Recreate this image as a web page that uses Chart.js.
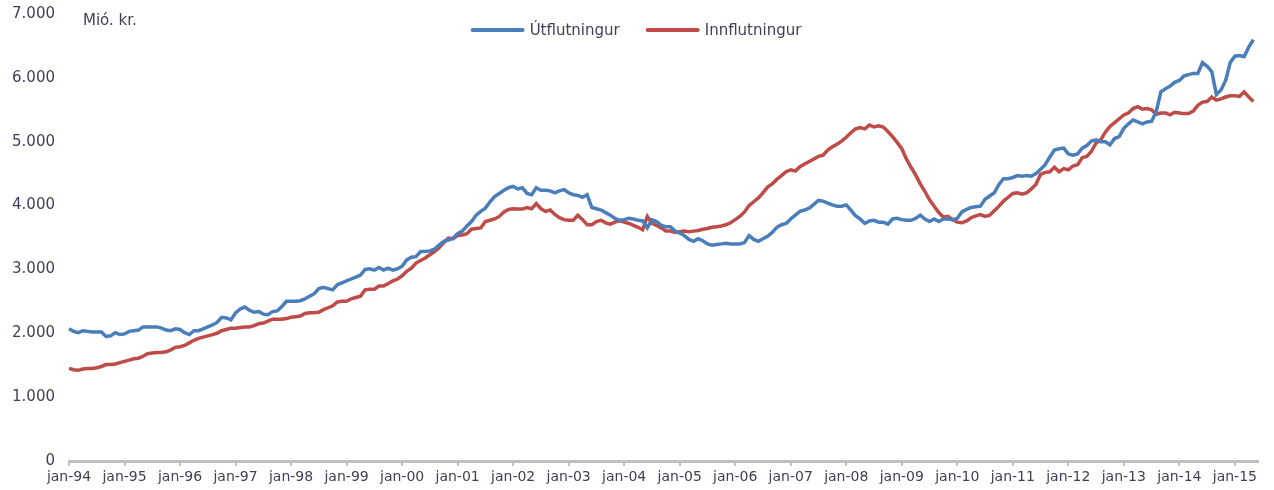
<!DOCTYPE html>
<html lang="is">
<head>
<meta charset="UTF-8" />
<title>Útflutningur og innflutningur</title>
<script src="https://cdn.jsdelivr.net/npm/chart.js@4.4.0/dist/chart.umd.min.js"></script>
<style>
  html, body { margin: 0; padding: 0; background: #fff; }
  #wrap { width: 1274px; height: 490px; }
</style>
</head>
<body>
<div id="wrap"><canvas id="tradeChart" width="1274" height="490"></canvas></div>
<script>
  // Monthly values in millions of ISK, jan-94 to maí-15
  const years = ["94","95","96","97","98","99","00","01","02","03","04","05","06","07","08","09","10","11","12","13","14","15"];
  const monthNames = ["jan","feb","mar","apr","maí","jún","júl","ágú","sep","okt","nóv","des"];

  const exports_ = [
    2070, 2030, 2010, 2040, 2030, 2020, 2020, 2020, 1950, 1960, 2010, 1980,
    1990, 2030, 2040, 2050, 2100, 2100, 2100, 2100, 2080, 2050, 2040, 2070,
    2060, 2010, 1980, 2040, 2040, 2070, 2100, 2130, 2170, 2250, 2240, 2210,
    2320, 2380, 2410, 2360, 2330, 2340, 2300, 2290, 2340, 2350, 2420, 2500,
    2500, 2500, 2510, 2540, 2580, 2620, 2700, 2720, 2700, 2680, 2760, 2790,
    2820, 2850, 2880, 2910, 3000, 3010, 2990, 3030, 2990, 3020, 2990, 3010,
    3050, 3150, 3190, 3200, 3280, 3280, 3290, 3320, 3380, 3440, 3460, 3490,
    3560, 3600, 3680, 3750, 3850, 3910, 3960, 4060, 4140, 4190, 4240, 4280,
    4300, 4260, 4280, 4190, 4170, 4280, 4240, 4240, 4230, 4200, 4230, 4250,
    4200, 4170, 4160, 4130, 4170, 3970, 3950, 3930, 3890, 3850, 3800, 3770,
    3780, 3800, 3790, 3770, 3760, 3650, 3780, 3750, 3690, 3670, 3670, 3600,
    3570, 3530, 3470, 3440, 3480, 3450, 3400, 3380, 3390, 3400, 3410, 3400,
    3400, 3400, 3420, 3530, 3470, 3440, 3480, 3520, 3580, 3660, 3700, 3720,
    3790, 3850, 3910, 3930, 3960, 4020, 4080, 4070, 4040, 4010, 3990, 3990,
    4010, 3930, 3840, 3790, 3720, 3760, 3770, 3740, 3740, 3710, 3790, 3800,
    3780, 3770, 3770, 3800, 3850, 3790, 3750, 3790, 3750, 3790, 3790, 3780,
    3800, 3900, 3940, 3970, 3980, 3990, 4100, 4150, 4200, 4330, 4420, 4420,
    4440, 4470, 4460, 4470, 4460, 4500, 4570, 4640, 4760, 4870, 4890, 4900,
    4810, 4790, 4810, 4900, 4940, 5010, 5030, 5000, 5000, 4950, 5050, 5080,
    5210, 5280, 5340, 5310, 5280, 5310, 5320, 5470, 5780, 5830, 5870, 5930,
    5960, 6030, 6050, 6070, 6070, 6240, 6180, 6100, 5740, 5810, 5960, 6240,
    6340, 6350, 6330, 6480, 6600
  ];

  const imports_ = [
    1450, 1430, 1420, 1440, 1450, 1450, 1460, 1480, 1510, 1510, 1520, 1540,
    1560, 1580, 1600, 1610, 1640, 1680, 1690, 1700, 1700, 1710, 1740, 1780,
    1790, 1810, 1850, 1890, 1920, 1940, 1960, 1980, 2000, 2040, 2060, 2080,
    2080, 2090, 2100, 2100, 2120, 2150, 2160, 2190, 2220, 2220, 2220, 2230,
    2250, 2260, 2270, 2310, 2320, 2320, 2330, 2370, 2400, 2430, 2490, 2500,
    2500, 2540, 2560, 2580, 2680, 2690, 2690, 2740, 2740, 2780, 2820, 2850,
    2900, 2970, 3020, 3100, 3140, 3180, 3230, 3280, 3340, 3420, 3490, 3480,
    3530, 3540, 3560, 3630, 3640, 3650, 3750, 3770, 3790, 3830, 3900, 3940,
    3950, 3945, 3945, 3970, 3950, 4030, 3950, 3910, 3930, 3860, 3810, 3780,
    3770, 3770, 3850, 3780, 3700, 3700, 3750, 3770, 3730, 3710, 3740, 3760,
    3740, 3720, 3690, 3660, 3620, 3830, 3720, 3690, 3650, 3600, 3600, 3580,
    3590, 3600, 3590, 3600, 3610, 3630, 3640, 3660, 3670, 3680, 3700, 3730,
    3780, 3830, 3900, 4000, 4060, 4120, 4200, 4290, 4340, 4410, 4470, 4530,
    4560, 4540, 4610, 4650, 4690, 4730, 4770, 4790, 4870, 4920, 4960, 5010,
    5070, 5140, 5200, 5220, 5200, 5260, 5230, 5250, 5230, 5160, 5080, 4990,
    4890, 4730, 4600, 4480, 4340, 4220, 4090, 3990, 3890, 3820, 3830, 3780,
    3740, 3730, 3760, 3810, 3840, 3860, 3830, 3850, 3920, 3990, 4070, 4130,
    4190, 4200, 4180, 4200, 4260, 4330, 4490, 4520, 4530, 4600, 4530, 4580,
    4560, 4620, 4640, 4750, 4770, 4850, 4980, 5030, 5150, 5240, 5300, 5360,
    5420, 5450, 5520, 5550, 5510, 5520, 5500, 5430, 5450, 5450, 5420, 5460,
    5450, 5440, 5440, 5480, 5570, 5620, 5630, 5700, 5650, 5670, 5700, 5720,
    5720, 5710, 5780, 5700, 5630
  ];

  const seriesNames = ["Útflutningur", "Innflutningur"];
  const unitLabel = "Mió. kr.";
  const yTicks = [0, 1000, 2000, 3000, 4000, 5000, 6000, 7000];

  // month labels, one past the last value so the axis runs a little further
  const labels = [];
  years.forEach(y => monthNames.forEach(m => labels.push(m + "-" + y)));
  labels.length = exports_.length + 1;

  const textColor = "#3f3f55";
  const fontFamily = 'Verdana, "DejaVu Sans", sans-serif';

  function thousands(v) {
    return String(v).replace(/\B(?=(\d{3})+(?!\d))/g, ".");
  }

  // legend and unit text sit inside the plot area
  const overlayText = {
    id: "overlayText",
    afterDraw(chart) {
      const ctx = chart.ctx;
      const area = chart.chartArea;
      ctx.save();
      ctx.font = "15px " + fontFamily;
      ctx.fillStyle = textColor;
      ctx.textBaseline = "middle";
      ctx.fillText(unitLabel, area.left + 14, area.top + 7);

      const lineLen = 50, gap = 7, itemGap = 28;
      const items = chart.data.datasets.map(ds => ({
        ds, w: lineLen + gap + ctx.measureText(ds.label).width
      }));
      const total = items.reduce((s, it) => s + it.w, 0) + itemGap * (items.length - 1);
      let x = chart.width / 2 - total / 2;
      const y = area.top + 16;
      items.forEach(it => {
        ctx.strokeStyle = it.ds.borderColor;
        ctx.lineWidth = 4;
        ctx.lineCap = "round";
        ctx.beginPath();
        ctx.moveTo(x, y);
        ctx.lineTo(x + lineLen, y);
        ctx.stroke();
        ctx.fillText(it.ds.label, x + lineLen + gap, y + 1);
        x += it.w + itemGap;
      });
      ctx.restore();
    }
  };

  new Chart(document.getElementById("tradeChart"), {
    type: "line",
    data: {
      labels: labels,
      datasets: [
        {
          label: seriesNames[0],
          data: exports_,
          borderColor: "#4a7ebb",
          borderWidth: 3.5,
          pointRadius: 0,
          tension: 0,
          fill: false
        },
        {
          label: seriesNames[1],
          data: imports_,
          borderColor: "#be4b48",
          borderWidth: 3.5,
          pointRadius: 0,
          tension: 0,
          fill: false
        }
      ]
    },
    options: {
      responsive: false,
      animation: false,
      devicePixelRatio: 1,
      layout: { padding: { left: 0, right: 16, top: 14, bottom: 0 } },
      plugins: {
        legend: { display: false },
        tooltip: { enabled: false }
      },
      scales: {
        x: {
          type: "category",
          offset: false,
          afterFit(scale) { scale.height = 29; },
          border: { display: true, color: "#c0c0c0", width: 3 },
          grid: {
            display: true,
            drawOnChartArea: false,
            color: "#c0c0c0",
            lineWidth: 2,
            tickLength: 5
          },
          ticks: {
            autoSkip: false,
            maxRotation: 0,
            padding: 3,
            color: textColor,
            font: { family: fontFamily, size: 14 },
            callback(value, index) {
              return index % 12 === 0 ? labels[index] : null;
            }
          }
        },
        y: {
          min: 0,
          max: 7000,
          afterFit(scale) {
            scale.width = 69;
            scale.paddingTop = 0;
            scale.paddingBottom = 0;
          },
          afterBuildTicks(scale) { scale.ticks = yTicks.map(v => ({ value: v })); },
          border: { display: false },
          grid: { display: false, drawTicks: false },
          ticks: {
            padding: 14,
            color: textColor,
            font: { family: fontFamily, size: 15 },
            callback(value) { return thousands(value); }
          }
        }
      }
    },
    plugins: [overlayText]
  });
</script>
</body>
</html>
